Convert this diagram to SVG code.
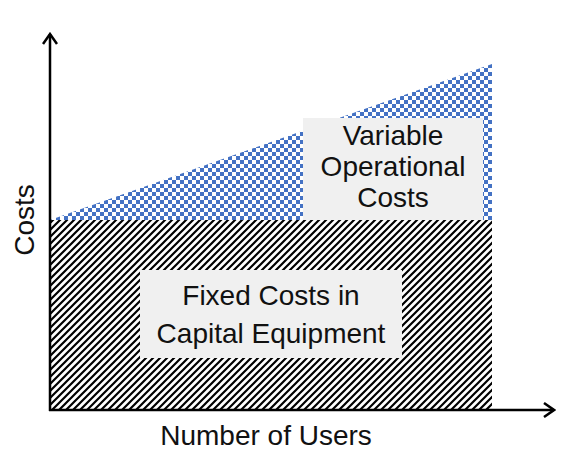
<svg xmlns="http://www.w3.org/2000/svg" width="584" height="466" viewBox="0 0 584 466">
<style>
.t{font-family:"Liberation Sans",Arial,sans-serif;font-size:28px;fill:#111;text-anchor:middle}
.ax{stroke:#000;stroke-width:2.5;fill:none}
.box{fill:#f0f0f0}
</style>
<defs>
<pattern id="chk" width="8" height="8" patternUnits="userSpaceOnUse">
<rect width="8" height="8" fill="#fff"/>
<rect x="0" y="0" width="4" height="4" fill="#4472c4"/>
<rect x="4" y="4" width="4" height="4" fill="#4472c4"/>
</pattern>
<pattern id="hatch" width="7" height="7" patternUnits="userSpaceOnUse">
<rect width="7" height="7" fill="#fff"/>
<path d="M-1,8 L8,-1 M-4.5,4.5 L4.5,-4.5 M2.5,11.5 L11.5,2.5" stroke="#000" stroke-width="2.2"/>
</pattern>
<marker id="arr" markerWidth="14" markerHeight="16" refX="12" refY="8" orient="auto" markerUnits="userSpaceOnUse">
<path d="M2,1 L12,8 L2,15" fill="none" stroke="#000" stroke-width="2.5"/>
</marker>
</defs>
<g id="variable-area">
<polygon points="50,220 492,64 492,220" fill="url(#chk)"/>
</g>
<g id="fixed-area">
<rect x="50" y="220" width="442" height="190" fill="url(#hatch)"/>
</g>
<g id="variable-label">
<rect class="box" x="303" y="118" width="180" height="102"/>
<text class="t" x="393" y="145">Variable</text>
<text class="t" x="393" y="176">Operational</text>
<text class="t" x="393" y="207">Costs</text>
</g>
<g id="fixed-label">
<rect class="box" x="140" y="270" width="262" height="88"/>
<text class="t" x="271" y="305">Fixed Costs in</text>
<text class="t" x="271" y="343">Capital Equipment</text>
</g>
<g id="connectors">
<line class="ax" x1="50" y1="411" x2="50" y2="34" marker-end="url(#arr)"/>
<line class="ax" x1="49" y1="410" x2="554" y2="410" marker-end="url(#arr)"/>
</g>
<g id="axis-labels">
<text class="t" x="266" y="445">Number of Users</text>
<text class="t" transform="translate(34,220) rotate(-90)" x="0" y="0">Costs</text>
</g>
</svg>
